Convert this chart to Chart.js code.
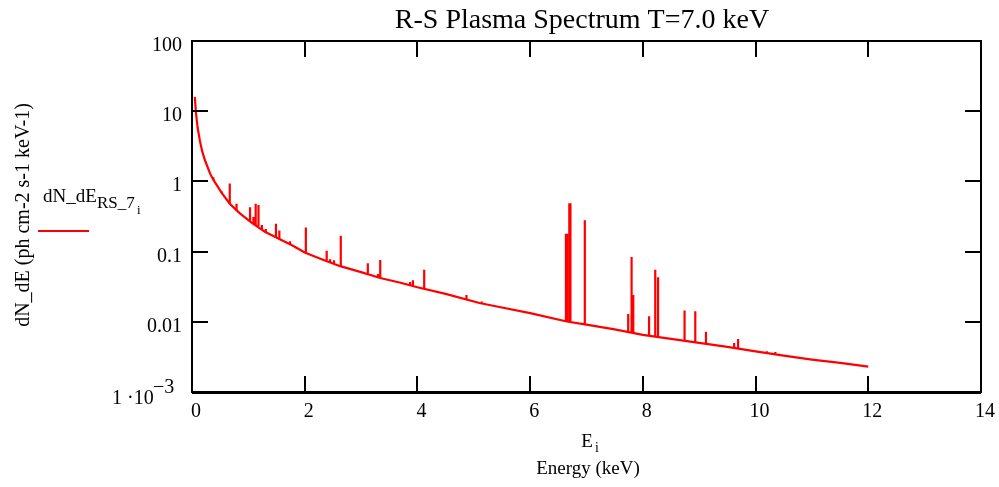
<!DOCTYPE html>
<html>
<head>
<meta charset="utf-8">
<script src="https://cdn.jsdelivr.net/npm/chart.js@4.4.1/dist/chart.umd.min.js"></script>
<style>
  html, body { margin: 0; padding: 0; background: #fff; }
  #wrap { width: 999px; height: 487px; }
</style>
</head>
<body>
<div id="wrap"><canvas id="myChart"></canvas></div>
<script>
(() => {
    'use strict'

    // continuum (keV, ph cm-2 s-1 keV-1)
    const contE = [0.05, 0.07, 0.10, 0.14, 0.18, 0.23, 0.32, 0.38, 0.53, 0.67, 0.85, 1.05, 1.30, 1.56, 1.80,
        2.00, 2.30, 2.63, 3.00, 3.34, 3.70, 4.00, 4.50, 5.10, 5.50, 6.00, 6.65, 7.00, 7.50, 8.00,
        8.50, 9.00, 9.50, 10.0, 10.5, 11.0, 11.5, 12.0];
    const contFlux = [16, 9.5, 5.8, 3.8, 2.7, 2.0, 1.3, 1.05, 0.68, 0.48, 0.35, 0.26, 0.19, 0.15, 0.12,
        0.097, 0.078, 0.062, 0.051, 0.042, 0.036, 0.031, 0.025, 0.0185, 0.016, 0.0133, 0.0101, 0.0091, 0.0078, 0.0065,
        0.0057, 0.0050, 0.0044, 0.0038, 0.0033, 0.0029, 0.0026, 0.0023];

    // emission lines: energy, continuum under it, peak
    const lineE = [0.38, 0.53, 0.67, 0.79, 1.03, 1.09, 1.13, 1.18, 1.24, 1.31, 1.49, 1.55, 1.74, 1.86,
        2.02, 2.39, 2.45, 2.52, 2.64, 3.12, 3.30, 3.34, 3.87, 3.92, 4.12, 4.87, 5.14,
        6.635, 6.655, 6.695, 6.715, 6.97, 7.74, 7.80, 7.83, 8.11, 8.22, 8.27, 8.74, 8.93, 9.12,
        9.62, 9.69, 10.2, 10.35];
    const lineBase = [1.05, 0.68, 0.48, 0.38, 0.27, 0.25, 0.24, 0.23, 0.21, 0.19, 0.16, 0.15, 0.125, 0.11,
        0.096, 0.074, 0.071, 0.068, 0.062, 0.049, 0.043, 0.042, 0.033, 0.032, 0.030, 0.021, 0.0183,
        0.0101, 0.0101, 0.0100, 0.0100, 0.0092, 0.0071, 0.0070, 0.0069, 0.0064, 0.0062, 0.0061, 0.0053, 0.0050, 0.0048,
        0.0043, 0.0042, 0.0036, 0.0035];
    const linePeak = [1.15, 0.72, 0.93, 0.48, 0.43, 0.31, 0.48, 0.46, 0.24, 0.21, 0.25, 0.20, 0.14, 0.115,
        0.22, 0.103, 0.078, 0.075, 0.168, 0.068, 0.048, 0.076, 0.037, 0.039, 0.055, 0.024, 0.0195,
        0.18, 0.18, 0.49, 0.49, 0.28, 0.0129, 0.084, 0.024, 0.012, 0.055, 0.043, 0.0145, 0.0141, 0.0072,
        0.0050, 0.0057, 0.0038, 0.0037];

    const xTicks = [0, 2, 4, 6, 8, 10, 12, 14];
    const yTicks = [100, 10, 1, 0.1, 0.01];
    const yTickLabels = ['100', '10', '1', '0.1', '0.01'];

    const serif = '"Liberation Serif", "Times New Roman", serif';

    const contData = contE.map((e, i) => ({ x: e, y: contFlux[i] }));
    const lineData = [];
    lineE.forEach((e, i) => {
        lineData.push({ x: e, y: lineBase[i] }, { x: e, y: linePeak[i] }, { x: e, y: lineBase[i] }, { x: e, y: null });
    });

    const decor = {
        id: 'decor',
        afterDraw(chart) {
            const c = chart.ctx;
            const a = chart.chartArea;
            const xs = chart.scales.x;
            const ys = chart.scales.y;
            c.save();
            c.strokeStyle = '#000';
            c.fillStyle = '#000';
            c.lineWidth = 2;
            c.strokeRect(a.left, a.top, a.right - a.left, a.bottom - a.top);
            c.beginPath();
            c.moveTo(a.left, a.bottom + 1); c.lineTo(a.right, a.bottom + 1);
            c.stroke();
            c.beginPath();
            xTicks.forEach(v => {
                const px = Math.round(xs.getPixelForValue(v));
                c.moveTo(px, a.bottom); c.lineTo(px, a.bottom - 16);
                c.moveTo(px, a.top); c.lineTo(px, a.top + 16);
            });
            yTicks.forEach(v => {
                const py = Math.round(ys.getPixelForValue(v));
                c.moveTo(a.left, py); c.lineTo(a.left + 16, py);
                c.moveTo(a.right, py); c.lineTo(a.right - 16, py);
            });
            c.stroke();

            // tick labels
            c.font = '20px ' + serif;
            c.textAlign = 'center';
            c.textBaseline = 'alphabetic';
            xTicks.forEach(v => {
                c.fillText(String(v), xs.getPixelForValue(v) + 4, a.bottom + 25);
            });
            c.textAlign = 'right';
            yTicks.forEach((v, i) => {
                c.fillText(yTickLabels[i], a.left - 10, ys.getPixelForValue(v) + 10);
            });
            // 1·10^-3
            const yb = ys.getPixelForValue(0.001) + 12;
            c.textAlign = 'left';
            c.fillText('1 \u00b710', 112, yb);
            c.fillText('\u22123', 153, yb - 11);

            // title
            c.textAlign = 'center';
            c.font = '28px ' + serif;
            c.fillText('R-S Plasma Spectrum T=7.0 keV', 582, 28);

            // x axis title
            c.font = '19px ' + serif;
            c.fillText('E', 587, 447);
            c.font = '14px ' + serif;
            c.fillText('i', 597, 452);
            c.font = '19px ' + serif;
            c.fillText('Energy (keV)', 588, 474);

            // y axis title
            c.save();
            c.translate(29, 215);
            c.rotate(-Math.PI / 2);
            c.font = '20px ' + serif;
            c.fillText('dN_dE (ph cm-2 s-1 keV-1)', 0, 0);
            c.restore();

            // legend
            c.textAlign = 'left';
            c.font = '19px ' + serif;
            c.fillText('dN_dE', 43, 202);
            c.font = '17px ' + serif;
            c.fillText('RS_7', 97, 208);
            c.font = '13px ' + serif;
            c.fillText('i', 137, 214);
            c.strokeStyle = '#ff0000';
            c.lineWidth = 2;
            c.beginPath();
            c.moveTo(38, 231); c.lineTo(89, 231);
            c.stroke();
            c.restore();
        }
    };

    const ctx = document.getElementById('myChart');
    new Chart(ctx, {
        type: 'line',
        data: {
            datasets: [{
                data: contData,
                borderColor: '#ff0000',
                borderWidth: 2.2,
                pointRadius: 0,
                tension: 0
            }, {
                data: lineData,
                borderColor: '#ff0000',
                borderWidth: 2.2,
                pointRadius: 0,
                tension: 0,
                spanGaps: false
            }]
        },
        options: {
            responsive: true,
            maintainAspectRatio: false,
            animation: false,
            devicePixelRatio: 1,
            layout: { padding: { left: 192, right: 18, top: 41, bottom: 95 } },
            scales: {
                x: { type: 'linear', min: 0, max: 14, display: false },
                y: { type: 'logarithmic', min: 0.001, max: 100, display: false }
            },
            plugins: {
                legend: { display: false },
                tooltip: { enabled: false }
            }
        },
        plugins: [decor]
    });
})()
</script>
</body>
</html>
